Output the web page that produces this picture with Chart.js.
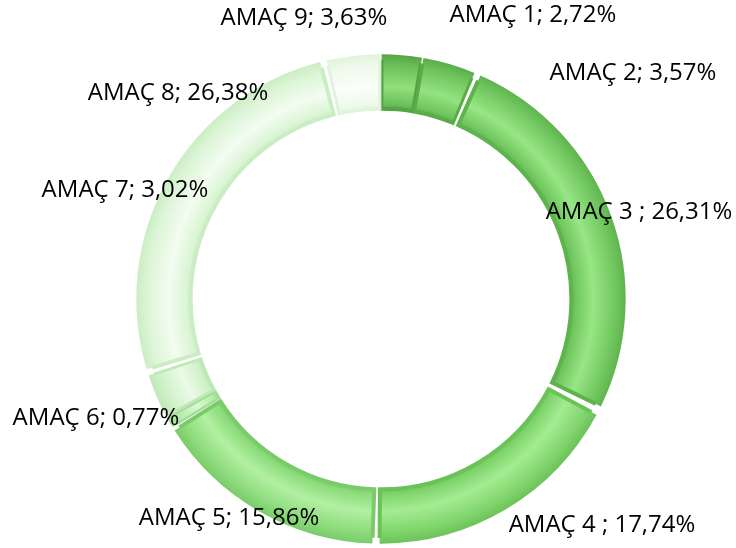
<!DOCTYPE html>
<html>
<head>
<meta charset="utf-8">
<script src="https://cdn.jsdelivr.net/npm/chart.js@4"></script>
<style>
  html, body { margin: 0; padding: 0; background: #fff; }
  #wrap { width: 736px; height: 548px; }
</style>
</head>
<body>
<div id="wrap"><canvas id="amacChart" width="736" height="548"></canvas></div>
<script>
// Data
const labels = ["AMAÇ 1", "AMAÇ 2", "AMAÇ 3 ", "AMAÇ 4 ", "AMAÇ 5", "AMAÇ 6", "AMAÇ 7", "AMAÇ 8", "AMAÇ 9"];
const values = [2.72, 3.57, 26.31, 17.74, 15.86, 0.77, 3.02, 26.38, 3.63];

// Colours for each slice: fill, light highlight, edge
const fills = ["#6cc05a", "#70c55e", "#72c860", "#80d46c", "#8ddb7c", "#b6eaac", "#cff1c8", "#dcf5d6", "#eefaeb"];
const lights = ["#90e07e", "#94e382", "#98e686", "#a4ec92", "#b2f0a2", "#d8f7d1", "#ebfae7", "#f3fcf0", "#fbfefa"];
const edges = ["#55a444", "#5aac49", "#5fb34d", "#6ac258", "#7acb69", "#a3dc98", "#bfe8b7", "#cbedc3", "#e0f3dc"];

// Where each data label sits (text centre)
const labelPos = [[533, 15], [633, 73], [639, 212], [602, 525], [229, 518], [96, 418], [125, 190], [178, 93], [304, 18]];

const cutoutPct = 77;

function fmt(v) {
  return v.toFixed(2).replace(".", ",") + "%";
}

// Radial shading across the ring for the bevel look
function ringGradient(ctx) {
  const chart = ctx.chart;
  const area = chart.chartArea;
  const i = ctx.dataIndex;
  if (!area) return fills[i];
  const cx = (area.left + area.right) / 2;
  const cy = (area.top + area.bottom) / 2;
  const outer = Math.min(area.right - area.left, area.bottom - area.top) / 2;
  const inner = outer * cutoutPct / 100;
  const g = chart.ctx.createRadialGradient(cx, cy, inner, cx, cy, outer);
  g.addColorStop(0, edges[i]);
  g.addColorStop(0.12, fills[i]);
  g.addColorStop(0.42, lights[i]);
  g.addColorStop(0.8, fills[i]);
  g.addColorStop(1, edges[i]);
  return g;
}

const labelPlugin = {
  id: "labelPlugin",
  afterDatasetsDraw(chart) {
    const c = chart.ctx;
    c.save();
    c.font = "24px 'Open Sans', sans-serif";
    c.fillStyle = "#000";
    c.textAlign = "center";
    c.textBaseline = "middle";
    labels.forEach((l, i) => {
      c.fillText(l + "; " + fmt(values[i]), labelPos[i][0], labelPos[i][1]);
    });
    c.restore();
  },
};

var ctxD = document.getElementById("amacChart").getContext("2d");
var amacChart = new Chart(ctxD, {
  type: "doughnut",
  data: {
    labels: labels,
    datasets: [
      {
        data: values,
        backgroundColor: ringGradient,
        borderColor: edges,
        borderWidth: 2,
        borderAlign: "inner",
        borderJoinStyle: "miter",
        spacing: 12,
        hoverOffset: 0,
      },
    ],
  },
  options: {
    responsive: false,
    animation: false,
    cutout: cutoutPct + "%",
    layout: { padding: { top: 54, bottom: 4, left: 136, right: 110 } },
    plugins: {
      legend: { display: false },
      tooltip: { enabled: false },
    },
  },
  plugins: [labelPlugin],
});
</script>
</body>
</html>
